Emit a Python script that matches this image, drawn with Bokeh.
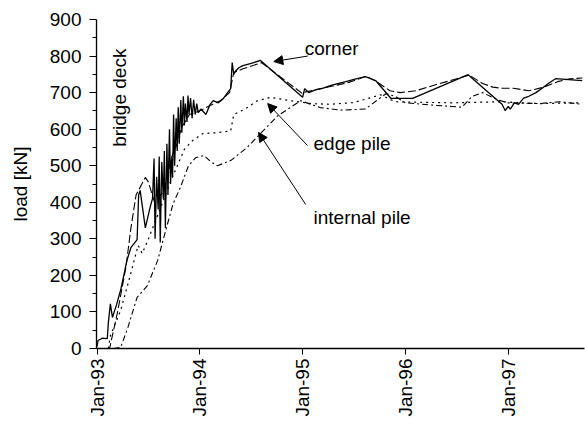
import math
from bokeh.plotting import figure
from bokeh.models import Label, Arrow, NormalHead, FixedTicker
from bokeh.embed import file_html
from bokeh.resources import INLINE

# ---- measured loads (time in decimal years, load in kN) ----
corner_t = [1993.000, 1993.010, 1993.050, 1993.100, 1993.110, 1993.130, 1993.150, 1993.190,
            1993.230, 1993.290, 1993.330, 1993.390, 1993.405, 1993.420, 1993.470, 1993.520,
            1993.540, 1993.555, 1993.565, 1993.580, 1993.595, 1993.605, 1993.615, 1993.630,
            1993.645, 1993.655, 1993.665, 1993.680, 1993.690, 1993.705, 1993.715, 1993.725,
            1993.735, 1993.745, 1993.755, 1993.770, 1993.780, 1993.790, 1993.800, 1993.815,
            1993.825, 1993.840, 1993.850, 1993.860, 1993.875, 1993.885, 1993.895, 1993.910,
            1993.925, 1993.940, 1993.955, 1993.970, 1993.985, 1994.010, 1994.060, 1994.100,
            1994.130, 1994.180, 1994.230, 1994.270, 1994.300, 1994.315, 1994.330, 1994.350,
            1994.380, 1994.420, 1994.500, 1994.590, 1995.000, 1995.020, 1995.060, 1995.130,
            1995.200, 1995.270, 1995.350, 1995.420, 1995.500, 1995.610, 1995.710, 1995.860,
            1996.070, 1996.610, 1996.900, 1996.940, 1996.970, 1997.000, 1997.020, 1997.060,
            1997.100, 1997.150, 1997.200, 1997.270, 1997.330, 1997.390, 1997.460, 1997.720]
corner_kn = [5, 22, 28, 27, 70, 122, 85, 120,
             160, 240, 276, 298, 420, 432, 330, 390,
             410, 520, 300, 470, 380, 525, 290, 510,
             410, 540, 330, 560, 420, 600, 450, 520,
             470, 640, 500, 630, 540, 660, 560, 680,
             590, 690, 610, 670, 620, 692, 640, 685,
             630, 680, 640, 670, 645, 655, 640, 668,
             678, 672, 684, 700, 711, 782, 750, 760,
             768, 774, 780, 788, 687, 711, 700, 708,
             712, 719, 725, 730, 736, 744, 733, 684,
             684, 749, 678, 668, 651, 662, 655, 672,
             668, 685, 690, 700, 712, 725, 738, 733]

deck_t = [1993.000, 1993.120, 1993.200, 1993.280, 1993.330, 1993.380, 1993.470, 1993.500,
          1993.560, 1993.650, 1993.720, 1993.780, 1993.820, 1993.900, 1994.000, 1994.100,
          1994.200, 1994.290, 1994.330, 1994.420, 1994.600, 1995.000, 1995.030, 1995.200,
          1995.450, 1995.620, 1995.720, 1995.850, 1995.950, 1996.100, 1996.300, 1996.500,
          1996.620, 1996.750, 1996.850, 1996.930, 1997.050, 1997.200, 1997.350, 1997.480,
          1997.600, 1997.720]
deck_kn = [0, -3, 100, 220, 330, 420, 468, 455,
           400, 430, 520, 560, 604, 640, 650, 665,
           678, 700, 755, 765, 782, 697, 702, 712,
           728, 745, 730, 705, 700, 705, 722, 738,
           748, 725, 715, 712, 712, 705, 715, 730,
           738, 740]

edge_t = [1993.110, 1993.130, 1993.230, 1993.310, 1993.400, 1993.440, 1993.500, 1993.570,
          1993.620, 1993.720, 1993.850, 1993.930, 1994.030, 1994.150, 1994.300, 1994.330,
          1994.440, 1994.560, 1994.690, 1994.880, 1995.080, 1995.270, 1995.500, 1995.760,
          1995.900, 1996.440, 1996.930, 1997.300, 1997.720]
edge_kn = [0, 35, 104, 186, 282, 260, 300, 350,
           386, 460, 545, 569, 588, 590, 595, 640,
           655, 678, 687, 678, 670, 668, 673, 694,
           675, 672, 675, 670, 672]

internal_t = [1993.160, 1993.230, 1993.300, 1993.390, 1993.490, 1993.590, 1993.650, 1993.740,
              1993.810, 1993.890, 1993.960, 1994.040, 1994.110, 1994.170, 1994.300, 1994.460,
              1994.590, 1994.760, 1994.880, 1994.980, 1995.170, 1995.370, 1995.610, 1995.810,
              1995.900, 1996.000, 1996.300, 1996.550, 1996.650, 1996.750, 1996.900, 1997.000,
              1997.300, 1997.500, 1997.720]
internal_kn = [0, 3, 57, 140, 172, 241, 304, 396,
               440, 500, 522, 528, 510, 500, 514, 550,
               588, 637, 659, 678, 659, 652, 655, 697,
               690, 672, 665, 660, 690, 700, 680, 672,
               670, 675, 668]

year_ticks = [1993, 1994, 1995, 1996, 1997]
year_labels = ["Jan-93", "Jan-94", "Jan-95", "Jan-96", "Jan-97"]

FONT = "Liberation Sans"
FS = "19px"

p = figure(width=585, height=425, output_backend="svg", toolbar_location=None,
           x_range=(1992.995, 1997.742), y_range=(0, 900),
           min_border_left=96, min_border_right=1, min_border_top=19, min_border_bottom=77)
p.background_fill_color = "white"
p.border_fill_color = "white"
p.outline_line_color = None
p.grid.visible = False

# series
p.line(corner_t, corner_kn, line_color="black", line_width=1.3)
p.line(deck_t, deck_kn, line_color="black", line_width=1.1, line_dash="8 3")
p.line(edge_t, edge_kn, line_color="black", line_width=1.2, line_dash="2 4")
p.line(internal_t, internal_kn, line_color="black", line_width=1.1, line_dash="6 3 2 3")

# x axis
xa = p.xaxis[0]
xa.ticker = FixedTicker(ticks=year_ticks, minor_ticks=[])
xa.major_label_overrides = {t: lab for t, lab in zip(year_ticks, year_labels)}
xa.major_label_orientation = math.pi / 2
xa.major_tick_out = 6
xa.major_tick_in = 0
xa.minor_tick_out = 0
xa.major_label_standoff = 4

# y axis
ya = p.yaxis[0]
ya.ticker = FixedTicker(ticks=list(range(0, 901, 100)), minor_ticks=list(range(50, 900, 100)))
ya.major_tick_out = 7
ya.major_tick_in = 0
ya.minor_tick_out = 4
ya.minor_tick_in = 0
ya.major_label_standoff = 8
ya.axis_label = "load [kN]"
ya.axis_label_standoff = 16
ya.axis_label_text_font_style = "normal"

for ax in (xa, ya):
    ax.axis_line_color = "black"
    ax.axis_line_width = 1.3
    ax.major_tick_line_color = "black"
    ax.minor_tick_line_color = "black"
    ax.major_label_text_font = FONT
    ax.major_label_text_font_size = FS
    ax.major_label_text_color = "black"
    ax.axis_label_text_font = FONT
    ax.axis_label_text_font_size = FS
    ax.axis_label_text_color = "black"

# annotations
def label(x, y, text, angle=0.0, align="left"):
    p.add_layout(Label(x=x, y=y, text=text, angle=angle, text_align=align,
                       text_baseline="middle", text_font=FONT, text_font_size=FS,
                       text_color="black"))

def arrow(x0, y0, x1, y1):
    p.add_layout(Arrow(x_start=x0, y_start=y0, x_end=x1, y_end=y1, line_width=1,
                       line_color="black",
                       end=NormalHead(size=9, fill_color="black", line_color="black",
                                      line_width=1)))

label(1993.219, 686, "bridge deck", angle=math.pi / 2, align="center")

label(1995.02, 820, "corner")
arrow(1995.05, 800, 1994.72, 785)

label(1995.106, 561, "edge pile")
arrow(1995.048, 555, 1994.66, 670)

label(1995.106, 358, "internal pile")
arrow(1995.03, 394, 1994.571, 591)

open("out.html", "w").write(file_html(p, INLINE))
